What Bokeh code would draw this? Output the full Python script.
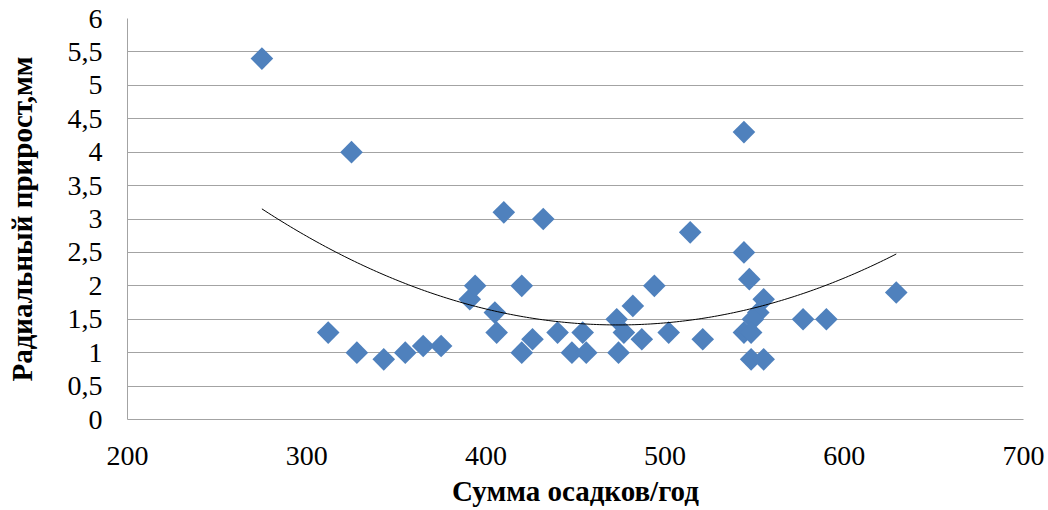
import numpy as np
from bokeh.plotting import figure
from bokeh.models import FixedTicker, Range1d
from bokeh.embed import file_html
from bokeh.resources import INLINE

# Annual precipitation sum (mm) and radial increment (mm) per year
precip = [275, 312, 325, 328, 343, 355, 365, 375, 391, 394,
          405, 406, 410, 420, 420, 426, 432, 440, 448, 454,
          456, 473, 474, 477, 482, 487, 494, 502, 514, 521,
          544, 544, 547, 555, 552, 549, 544, 548, 548, 555,
          577, 590, 629]
growth = [5.4, 1.3, 4.0, 1.0, 0.9, 1.0, 1.1, 1.1, 1.8, 2.0,
          1.6, 1.3, 3.1, 1.0, 2.0, 1.2, 3.0, 1.3, 1.0, 1.3,
          1.0, 1.5, 1.0, 1.3, 1.7, 1.2, 2.0, 1.3, 2.8, 1.2,
          4.3, 2.5, 2.1, 1.8, 1.6, 1.5, 1.3, 1.3, 0.9, 0.9,
          1.5, 1.5, 1.9]

x_ticks = [200, 300, 400, 500, 600, 700]
y_ticks = [0, 0.5, 1, 1.5, 2, 2.5, 3, 3.5, 4, 4.5, 5, 5.5, 6]
y_tick_labels = ["0", "0,5", "1", "1,5", "2", "2,5", "3", "3,5",
                 "4", "4,5", "5", "5,5", "6"]

x_title = "Сумма осадков/год"
y_title = "Радиальный прирост,мм"

GRID = "#A3A3A3"
MARK = "#4F81BD"
FONT = "Liberation Serif"

p = figure(width=1048, height=510, output_backend="svg", toolbar_location=None,
           x_range=Range1d(200, 700), y_range=Range1d(0, 6),
           min_border_left=127, min_border_right=25,
           min_border_top=18, min_border_bottom=91)
p.outline_line_color = None
p.background_fill_color = "white"
p.border_fill_color = "white"

# horizontal grid only
p.xgrid.visible = False
p.ygrid.ticker = FixedTicker(ticks=y_ticks)
p.ygrid.grid_line_color = GRID
p.ygrid.grid_line_width = 1

for ax in (p.xaxis[0], p.yaxis[0]):
    ax.major_tick_in = 0
    ax.major_tick_out = 0
    ax.minor_tick_in = 0
    ax.minor_tick_out = 0
    ax.axis_line_color = GRID
    ax.major_label_text_font = FONT
    ax.major_label_text_font_size = "28px"
    ax.major_label_text_color = "black"
    ax.axis_label_text_font = FONT
    ax.axis_label_text_font_style = "bold"
    ax.axis_label_text_font_size = "29px"
    ax.axis_label_text_color = "black"

p.xaxis.ticker = FixedTicker(ticks=x_ticks)
p.yaxis.ticker = FixedTicker(ticks=y_ticks)
p.yaxis.major_label_overrides = {float(v): s for v, s in zip(y_ticks, y_tick_labels)}
p.xaxis.axis_label = x_title
p.yaxis.axis_label = y_title
p.yaxis.major_label_standoff = 25
p.xaxis.major_label_standoff = 27
p.yaxis.axis_label_standoff = 27
p.xaxis.axis_label_standoff = 7

# observations as diamonds
p.scatter(precip, growth, marker="square", angle=np.pi / 4, size=16,
          fill_color=MARK, line_color=None)

# second-order polynomial trend over the observed range
coef = np.polyfit(precip, growth, 2)
xs = np.linspace(min(precip), max(precip), 200)
p.line(xs, np.polyval(coef, xs), line_color="black", line_width=1)

open("out.html", "w").write(file_html(p, INLINE))
